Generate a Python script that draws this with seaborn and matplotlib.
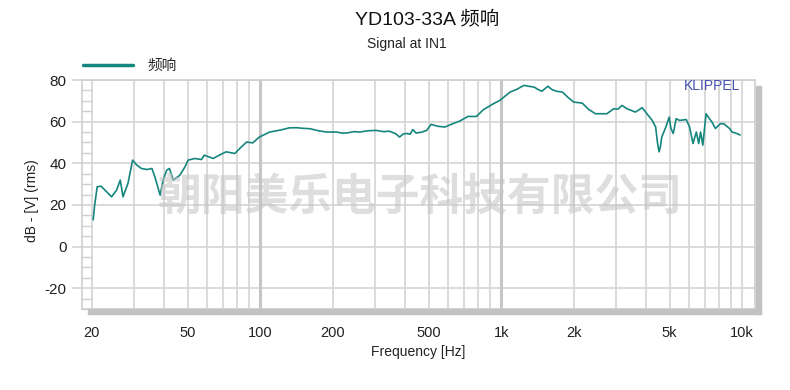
import matplotlib
matplotlib.use("Agg")
import matplotlib.pyplot as plt
from matplotlib.patches import Rectangle
from matplotlib.lines import Line2D
from matplotlib.ticker import MultipleLocator, NullFormatter
import seaborn as sns
import pandas as pd

# ---- data ----
freq_hz = [20.3, 20.6, 21.1, 21.9, 23.0, 24.2, 25.4, 26.3, 27.0, 28.3, 29.6, 30.8,
           32.2, 34.0, 35.6, 36.6, 38.5, 39.6, 41.0, 42.1, 43.6, 46.5, 48.8, 50.3,
           53.5, 57.1, 58.7, 63.9, 68.0, 72.3, 78.6, 83.0, 87.9, 93.2, 99.3, 109.6,
           117, 124, 132, 142, 150, 161, 175, 189, 208, 218, 228, 245, 259, 280,
           303, 325, 344, 365, 379, 392, 404, 420, 430, 444, 470, 491, 512, 545,
           584, 630, 674, 729, 790, 843, 929, 988, 1089, 1160, 1243, 1300, 1371,
           1420, 1474, 1563, 1620, 1694, 1796, 1900, 2000, 2170, 2300, 2460, 2746,
           2930, 3050, 3173, 3326, 3605, 3847, 3973, 4233, 4375, 4450, 4519, 4580,
           4638, 4822, 4980, 5062, 5175, 5320, 5500, 5858, 6050, 6250, 6450, 6600,
           6720, 6865, 7080, 7250, 7490, 7740, 8120, 8380, 8860, 9080, 9400, 9800]
level_db = [12.8, 20.0, 28.7, 29.0, 26.5, 23.9, 27.1, 31.9, 23.9, 30.3, 41.5, 39.1,
            37.5, 37.0, 37.5, 33.5, 24.7, 31.9, 36.7, 37.5, 31.9, 34.3, 38.3, 41.5,
            42.3, 41.8, 43.9, 42.3, 44.0, 45.5, 44.7, 47.5, 50.2, 49.8, 52.6, 55.0,
            55.6, 56.2, 57.0, 57.1, 56.8, 56.6, 55.6, 55.0, 55.0, 54.5, 54.5, 55.2,
            55.0, 55.6, 55.8, 55.2, 55.4, 54.2, 52.6, 54.0, 54.3, 54.0, 56.2, 54.5,
            55.0, 55.8, 58.7, 57.8, 57.4, 59.0, 60.3, 62.5, 62.5, 65.7, 68.6, 70.2,
            74.2, 75.5, 77.4, 77.0, 76.6, 75.5, 74.6, 77.0, 75.5, 74.6, 74.2, 71.5,
            69.4, 68.9, 66.0, 63.8, 63.8, 66.2, 66.0, 67.8, 66.2, 64.6, 66.7, 64.6,
            60.6, 57.4, 50.0, 45.5, 48.0, 52.6, 57.4, 62.2, 56.7, 54.3, 61.4, 60.6,
            61.0, 57.4, 49.5, 55.0, 49.5, 55.0, 48.7, 63.8, 62.0, 59.8, 56.7, 59.0,
            59.0, 56.7, 55.0, 54.5, 53.6]

x_tick_values = [20, 50, 100, 200, 500, 1000, 2000, 5000, 10000]
x_tick_labels = ["20", "50", "100", "200", "500", "1k", "2k", "5k", "10k"]
x_grid_values = [20, 30, 40, 50, 60, 70, 80, 90, 100, 200, 300, 400, 500, 600,
                 700, 800, 900, 1000, 2000, 3000, 4000, 5000, 6000, 7000, 8000,
                 9000, 10000]
y_tick_values = [-20, 0, 20, 40, 60, 80]

title_text = "YD103-33A 频响"
subtitle_text = "Signal at IN1"
series_name = "频响"
watermark_text = "朝阳美乐电子科技有限公司"

# ---- style ----
sns.set_style("white")
plt.rcParams["font.family"] = ["Liberation Sans", "Noto Sans CJK SC", "DejaVu Sans"]
plt.rcParams["axes.unicode_minus"] = False

W, H = 790, 390
fig = plt.figure(figsize=(W / 100, H / 100), dpi=100)
L, R, T, B = 82, 755, 80, 309
ax = fig.add_axes([L / W, 1 - B / H, (R - L) / W, (B - T) / H])

grid_c = "#d4d4d4"
curve_c = "#15867e"

# shadow
fig.patches.append(Rectangle((88 / W, 1 - 314 / H), (761 - 88) / W, 5 / H,
                             transform=fig.transFigure, color="#c2c2c2", zorder=0))
fig.patches.append(Rectangle((756 / W, 1 - 314 / H), 5 / W, (314 - 86) / H,
                             transform=fig.transFigure, color="#c2c2c2", zorder=0))

df = pd.DataFrame({"Frequency": freq_hz, "Level": level_db})
sns.lineplot(data=df, x="Frequency", y="Level", ax=ax, color=curve_c, lw=1.2,
             zorder=5, legend=False)

ax.set_xscale("log")
ax.set_xlim(18.25, 11300)
ax.set_ylim(-30, 80)

ax.set_xticks(x_tick_values)
ax.set_xticklabels(x_tick_labels)
ax.set_xticks([v for v in x_grid_values if v not in x_tick_values], minor=True)
ax.xaxis.set_minor_formatter(NullFormatter())
ax.tick_params(axis="x", which="both", length=0, pad=12, labelsize=10.5,
               labelcolor="#222222")
for lab in ax.get_xticklabels():
    lab.set_family(["Liberation Sans Narrow", "Liberation Sans"])

ax.set_yticks(y_tick_values)
ax.yaxis.set_minor_locator(MultipleLocator(5))
ax.tick_params(axis="y", which="major", left=True, direction="out", length=7,
               width=1.2, color=grid_c, pad=4, labelsize=11, labelcolor="#222222")
ax.tick_params(axis="y", which="minor", left=True, direction="in", length=7,
               width=1, color="#cfcfcf")

ax.grid(True, axis="x", which="both", color=grid_c, lw=1.2, zorder=1)
ax.grid(True, axis="y", which="major", color=grid_c, lw=1.2, zorder=1)
for dec in (100, 1000):
    ax.axvline(dec, color="#c6c6c6", lw=2.2, zorder=1.5)

for s in ax.spines.values():
    s.set_color("#d0d0d0")
    s.set_linewidth(1.2)

ax.set_xlabel("")
ax.set_ylabel("")

# legend
handles = [Line2D([], [], color=curve_c, lw=2.5)]
fig.legend(handles, [series_name], loc="center left",
           bbox_to_anchor=(83 / W, 1 - 66 / H), frameon=False, fontsize=10.5,
           handlelength=3.4, handletextpad=1.0, borderpad=0, borderaxespad=0)

# texts
fig.text(427 / W, 1 - 19 / H, title_text, ha="center", va="center", fontsize=14,
         color="#111111")
fig.text(407 / W, 1 - 44 / H, subtitle_text, ha="center", va="center",
         fontsize=10, color="#222222")
fig.text(418 / W, 1 - 352 / H, "Frequency [Hz]", ha="center", va="center",
         fontsize=10, color="#222222",
         family=["Liberation Sans Narrow", "Liberation Sans"])
fig.text(32 / W, 1 - 201 / H, "dB - [V] (rms)", ha="center", va="center",
         rotation=90, fontsize=10, color="#222222")
ax.text(0.978, 0.975, "KLIPPEL", transform=ax.transAxes, ha="right", va="center",
        fontsize=10, color="#4652b0", zorder=6)

# watermark
fig.text(420 / W, 1 - 197 / H, watermark_text, ha="center", va="center",
         fontsize=31.5, fontweight="bold", color="#c4c4c4", alpha=0.55,
         family=["Noto Sans CJK SC"], zorder=10)

fig.savefig("out.png", dpi=100, facecolor="white")
